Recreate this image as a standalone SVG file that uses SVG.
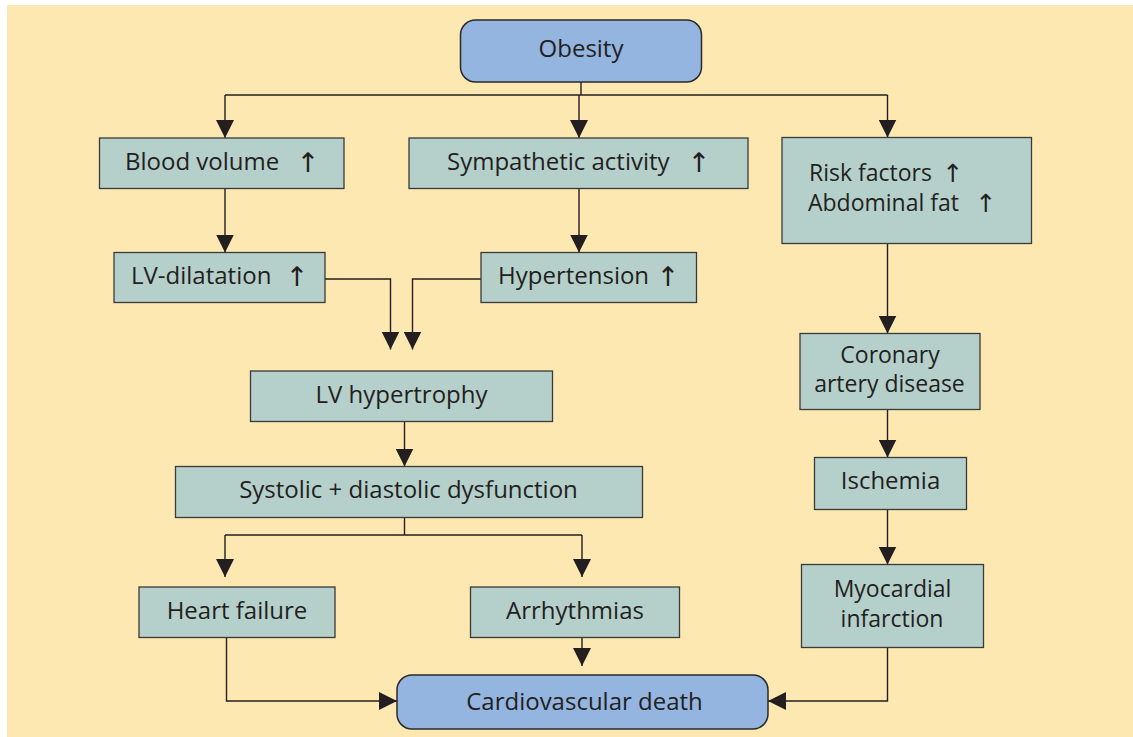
<svg xmlns="http://www.w3.org/2000/svg" width="1133" height="737" viewBox="0 0 1133 737">
  <style>
    .box { fill: #b5d0cb; stroke: #3a3a3a; stroke-width: 1.3; }
    .term { fill: #93b5e0; stroke: #2a2a2a; stroke-width: 1.5; }
    .lbl { font-family: "Open Sans", "Liberation Sans", sans-serif; font-size: 24px; fill: #231f20; }
    .two { font-size: 23px; }
    .up { font-family: "DejaVu Sans", sans-serif; font-size: 27px; fill: #231f20; }
    .up.sm { font-size: 25px; }
    .wire { fill: none; stroke: #231f20; stroke-width: 1.4; }
  </style>
  <defs>
    <marker id="head" viewBox="0 0 18 18" refX="18" refY="9" markerWidth="18" markerHeight="18" markerUnits="userSpaceOnUse" orient="auto">
      <path d="M0,0 L18,9 L0,18 z" fill="#231f20"/>
    </marker>
  </defs>

  <!-- background panel -->
  <rect x="7" y="5" width="1126" height="732" fill="#fee8b2"/>

  <!-- connectors -->
  <g id="connectors" class="wire">
    <path d="M581,82 V95"/>
    <path d="M225,95 H887.5"/>
    <path d="M225,95 V138" marker-end="url(#head)"/>
    <path d="M579,95 V138" marker-end="url(#head)"/>
    <path d="M887.5,95 V137.5" marker-end="url(#head)"/>
    <path d="M225,188.5 V252.5" marker-end="url(#head)"/>
    <path d="M579,188.5 V252.5" marker-end="url(#head)"/>
    <path d="M325,279 H390.5 V349.5" marker-end="url(#head)"/>
    <path d="M481,279 H412.5 V349.5" marker-end="url(#head)"/>
    <path d="M404.5,421.5 V466.5" marker-end="url(#head)"/>
    <path d="M404.5,517.5 V535"/>
    <path d="M225,535 H582"/>
    <path d="M225,535 V577" marker-end="url(#head)"/>
    <path d="M582,535 V577" marker-end="url(#head)"/>
    <path d="M226.5,637.5 V701 H397" marker-end="url(#head)"/>
    <path d="M582,637.5 V666" marker-end="url(#head)"/>
    <path d="M887.5,243.5 V333.5" marker-end="url(#head)"/>
    <path d="M887.5,409.5 V457.5" marker-end="url(#head)"/>
    <path d="M887.5,509.5 V564.5" marker-end="url(#head)"/>
    <path d="M887.5,647.5 V701 H768" marker-end="url(#head)"/>
  </g>

  <g id="obesity">
    <rect class="term" x="460.5" y="20" width="241" height="62" rx="15"/>
    <text class="lbl" x="581" y="57" text-anchor="middle">Obesity</text>
  </g>

  <g id="blood-volume">
    <rect class="box" x="99.5" y="138" width="244.5" height="50.5"/>
    <text class="lbl" x="125" y="170">Blood volume</text>
    <text class="up" x="308" y="172" text-anchor="middle">↑</text>
  </g>

  <g id="sympathetic">
    <rect class="box" x="409" y="138" width="339" height="50.5"/>
    <text class="lbl" x="447" y="170">Sympathetic activity</text>
    <text class="up" x="699" y="172" text-anchor="middle">↑</text>
  </g>

  <g id="risk-factors">
    <rect class="box" x="782" y="137.5" width="249.5" height="106"/>
    <text class="lbl two" x="809" y="181">Risk factors</text>
    <text class="up sm" x="953" y="182" text-anchor="middle">↑</text>
    <text class="lbl two" x="808" y="211">Abdominal fat</text>
    <text class="up sm" x="986" y="212" text-anchor="middle">↑</text>
  </g>

  <g id="lv-dilatation">
    <rect class="box" x="114" y="252.5" width="211" height="50"/>
    <text class="lbl" x="131" y="284">LV-dilatation</text>
    <text class="up" x="297" y="286" text-anchor="middle">↑</text>
  </g>

  <g id="hypertension">
    <rect class="box" x="481" y="252.5" width="215.5" height="50"/>
    <text class="lbl" x="498" y="284">Hypertension</text>
    <text class="up" x="668" y="286" text-anchor="middle">↑</text>
  </g>

  <g id="lv-hypertrophy">
    <rect class="box" x="250.5" y="371" width="302" height="50.5"/>
    <text class="lbl" x="401.5" y="403" text-anchor="middle">LV hypertrophy</text>
  </g>

  <g id="dysfunction">
    <rect class="box" x="175.5" y="466.5" width="467" height="51"/>
    <text class="lbl" x="408.5" y="498" text-anchor="middle">Systolic + diastolic dysfunction</text>
  </g>

  <g id="heart-failure">
    <rect class="box" x="139" y="587" width="196" height="50.5"/>
    <text class="lbl" x="237" y="618.5" text-anchor="middle">Heart failure</text>
  </g>

  <g id="arrhythmias">
    <rect class="box" x="470.5" y="587" width="209" height="50.5"/>
    <text class="lbl" x="575" y="618.5" text-anchor="middle">Arrhythmias</text>
  </g>

  <g id="cardiovascular-death">
    <rect class="term" x="397" y="675" width="371" height="54" rx="15"/>
    <text class="lbl" x="584.5" y="709.5" text-anchor="middle">Cardiovascular death</text>
  </g>

  <g id="coronary">
    <rect class="box" x="800" y="333.5" width="180" height="76"/>
    <text class="lbl two" x="890" y="363" text-anchor="middle">Coronary</text>
    <text class="lbl two" x="889.5" y="392" text-anchor="middle">artery disease</text>
  </g>

  <g id="ischemia">
    <rect class="box" x="814.5" y="457.5" width="152" height="52"/>
    <text class="lbl" x="890.5" y="489" text-anchor="middle">Ischemia</text>
  </g>

  <g id="myocardial-infarction">
    <rect class="box" x="801.5" y="564.5" width="182" height="83"/>
    <text class="lbl two" x="892.5" y="597" text-anchor="middle">Myocardial</text>
    <text class="lbl two" x="892" y="627" text-anchor="middle">infarction</text>
  </g>
</svg>
